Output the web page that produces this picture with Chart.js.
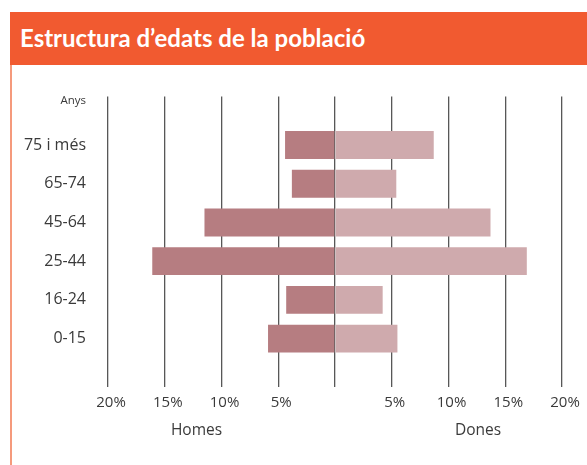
<!DOCTYPE html>
<html>
<head>
<meta charset="utf-8">
<script src="https://cdn.jsdelivr.net/npm/chart.js@4/dist/chart.umd.min.js"></script>
<style>
  body { margin: 0; background: #fff; font-family: "Open Sans", sans-serif; }
  #header {
    position: absolute; left: 10px; top: 12px; width: 577px; height: 53px;
    background: #F15A30; color: #fff; font-family: Lato, sans-serif; font-weight: bold; font-size: 24px;
    line-height: 51px; padding-left: 10px; box-sizing: border-box;
  }
  #box {
    position: absolute; left: 10px; top: 65px; width: 577px; height: 400px;
    border-left: 2px solid #F59A7C; box-sizing: border-box;
  }
  #wrap { position: relative; width: 575px; height: 400px; }
</style>
</head>
<body>
<div id="header">Estructura d’edats de la població</div>
<div id="box"><div id="wrap"><canvas id="pyramid"></canvas></div></div>
<script>
// age groups, top to bottom
const categories = ["75 i més", "65-74", "45-64", "25-44", "16-24", "0-15"];
// % of population
const homes = [4.4, 3.8, 11.5, 16.1, 4.3, 5.9];
const dones = [8.7, 5.4, 13.7, 16.9, 4.2, 5.5];
const xTicks = [-20, -15, -10, -5, 0, 5, 10, 15, 20];

const textColor = "#3a3a3a";
const fontFamily = "'Open Sans', sans-serif";

// "Homes" / "Dones" under each half of the axis
const sideLabels = {
  id: "sideLabels",
  afterDraw(chart) {
    const { ctx, chartArea, scales } = chart;
    ctx.save();
    ctx.fillStyle = textColor;
    ctx.font = "15.5px " + fontFamily;
    ctx.textAlign = "center";
    ctx.textBaseline = "middle";
    const y = chartArea.bottom + 44;
    ctx.fillText("Homes", scales.x.getPixelForValue(-12.2), y);
    ctx.fillText("Dones", scales.x.getPixelForValue(12.6), y);
    ctx.restore();
  }
};

new Chart(document.getElementById("pyramid"), {
  type: "bar",
  data: {
    datasets: [
      {
        label: "Homes",
        data: homes.map((v, i) => ({ x: -v, y: i })),
        backgroundColor: "#B67D81",
      },
      {
        label: "Dones",
        data: dones.map((v, i) => ({ x: v, y: i })),
        backgroundColor: "#CFAAAD",
      },
    ],
  },
  options: {
    indexAxis: "y",
    responsive: true,
    maintainAspectRatio: false,
    animation: false,
    barPercentage: 0.72,
    categoryPercentage: 1,
    layout: { padding: { top: 31, right: 25, left: 0, bottom: 0 } },
    plugins: {
      legend: { display: false },
      tooltip: { enabled: false },
    },
    scales: {
      x: {
        type: "linear",
        min: -20,
        max: 20,
        stacked: true,
        z: 1,
        afterFit: scale => { scale.height = 78; },
        afterBuildTicks: scale => { scale.ticks = xTicks.map(v => ({ value: v })); },
        border: { display: false },
        grid: { color: "rgba(45,45,45,0.8)", lineWidth: 1.3, drawTicks: false },
        ticks: {
          padding: 7,
          labelOffset: 3,
          color: textColor,
          font: { family: fontFamily, size: 15 },
          callback: v => (v === 0 ? "" : Math.abs(v) + "%"),
        },
      },
      y: {
        type: "linear",
        reverse: true,
        offset: false,
        min: -1.25,
        max: 6.25,
        stacked: true,
        afterFit: scale => { scale.width = 96; },
        afterBuildTicks: scale => {
          scale.ticks = [{ value: -1.15 }].concat(categories.map((c, i) => ({ value: i })));
        },
        border: { display: false },
        grid: { display: false, drawTicks: false },
        ticks: {
          padding: 22,
          color: textColor,
          font: ctx => ({ family: fontFamily, size: ctx.tick && ctx.tick.value < 0 ? 11.5 : 16 }),
          callback: v => (v < 0 ? "Anys" : categories[v]),
        },
      },
    },
  },
  plugins: [sideLabels],
});
</script>
</body>
</html>
